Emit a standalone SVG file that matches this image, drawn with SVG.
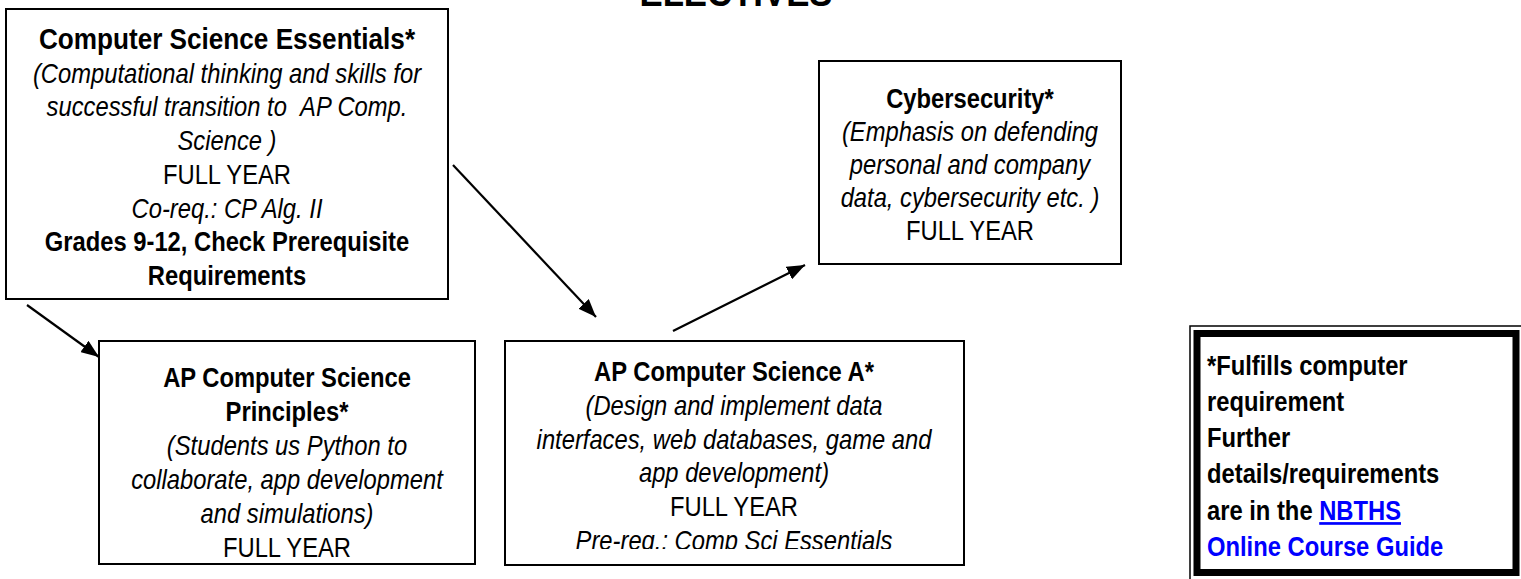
<svg xmlns="http://www.w3.org/2000/svg" width="1521" height="579" viewBox="0 0 1521 579">
<style>
text{font-family:"Liberation Sans",Arial,Helvetica,sans-serif;font-size:27px;fill:#000;text-anchor:middle}
.b{font-weight:bold}
.i{font-style:italic}
.t{font-size:29.7px;font-weight:bold}
.box{fill:#fff;stroke:#000;stroke-width:2}
.conn line{stroke:#000;stroke-width:2.2}
.l{text-anchor:start;font-weight:bold}
.lnk{fill:#0000ff}
</style>
<defs>
<marker id="arr" viewBox="0 0 18 14" refX="18" refY="7" markerWidth="18" markerHeight="14" markerUnits="userSpaceOnUse" orient="auto">
<path d="M0,0 L18,7 L0,14 z" fill="#000"/>
</marker>
<clipPath id="c3"><rect x="505" y="341" width="459" height="208"/></clipPath>
</defs>
<rect width="1521" height="579" fill="#fff"/>
<g transform="translate(736 0) scale(0.88 1)"><text class="b" x="0" y="6" style="font-size:39.5px">ELECTIVES</text></g>

<g id="cs-essentials">
<rect class="box" x="6" y="9" width="442" height="290"/>
<g transform="translate(227 0) scale(0.88 1)">
<text class="t" x="0" y="49">Computer Science Essentials*</text>
<text class="i" x="0" y="83">(Computational thinking and skills for</text>
<text class="i" x="0" y="116">successful transition to &#160;AP Comp.</text>
<text class="i" x="0" y="150">Science )</text>
<text x="0" y="184">FULL YEAR</text>
<text class="i" x="0" y="218">Co-req.: CP Alg. II</text>
<text class="b" x="0" y="251">Grades 9-12, Check Prerequisite</text>
<text class="b" x="0" y="285">Requirements</text>
</g>
</g>

<g id="ap-csp">
<rect class="box" x="99" y="341" width="376" height="223"/>
<g transform="translate(287 0) scale(0.88 1)">
<text class="b" x="0" y="387">AP Computer Science</text>
<text class="b" x="0" y="421">Principles*</text>
<text class="i" x="0" y="455">(Students us Python to</text>
<text class="i" x="0" y="489">collaborate, app development</text>
<text class="i" x="0" y="523">and simulations)</text>
<text x="0" y="557">FULL YEAR</text>
</g>
</g>

<g id="ap-csa">
<rect class="box" x="505" y="341" width="459" height="224"/>
<g clip-path="url(#c3)">
<g transform="translate(734 0) scale(0.88 1)">
<text class="b" x="0" y="381">AP Computer Science A*</text>
<text class="i" x="0" y="415">(Design and implement data</text>
<text class="i" x="0" y="449">interfaces, web databases, game and</text>
<text class="i" x="0" y="482">app development)</text>
<text x="0" y="516">FULL YEAR</text>
<text class="i" x="0" y="550">Pre-req.: Comp Sci Essentials</text>
</g>
</g>
</g>

<g id="cybersecurity">
<rect class="box" x="819" y="61" width="302" height="203"/>
<g transform="translate(970 0) scale(0.88 1)">
<text class="b" x="0" y="108">Cybersecurity*</text>
<text class="i" x="0" y="141">(Emphasis on defending</text>
<text class="i" x="0" y="174">personal and company</text>
<text class="i" x="0" y="207">data, cybersecurity etc. )</text>
<text x="0" y="240">FULL YEAR</text>
</g>
</g>

<g id="note">
<rect x="1190" y="326" width="340" height="260" fill="none" stroke="#000" stroke-width="1.5"/>
<rect x="1197" y="333.5" width="319" height="239" fill="#fff" stroke="#000" stroke-width="7"/>
<g transform="translate(1207 0) scale(0.88 1)">
<text class="l" x="0" y="375">*Fulfills computer</text>
<text class="l" x="0" y="411">requirement</text>
<text class="l" x="0" y="447">Further</text>
<text class="l" x="0" y="483">details/requirements</text>
<text class="l" x="0" y="520">are in the <tspan class="lnk" text-decoration="underline">NBTHS</tspan></text>
<text class="l lnk" x="0" y="556">Online Course Guide</text>
</g>
</g>

<g id="connectors" class="conn">
<line x1="27" y1="305" x2="99" y2="357" marker-end="url(#arr)"/>
<line x1="453" y1="165" x2="596" y2="317" marker-end="url(#arr)"/>
<line x1="673" y1="331" x2="805" y2="265" marker-end="url(#arr)"/>
</g>
</svg>
